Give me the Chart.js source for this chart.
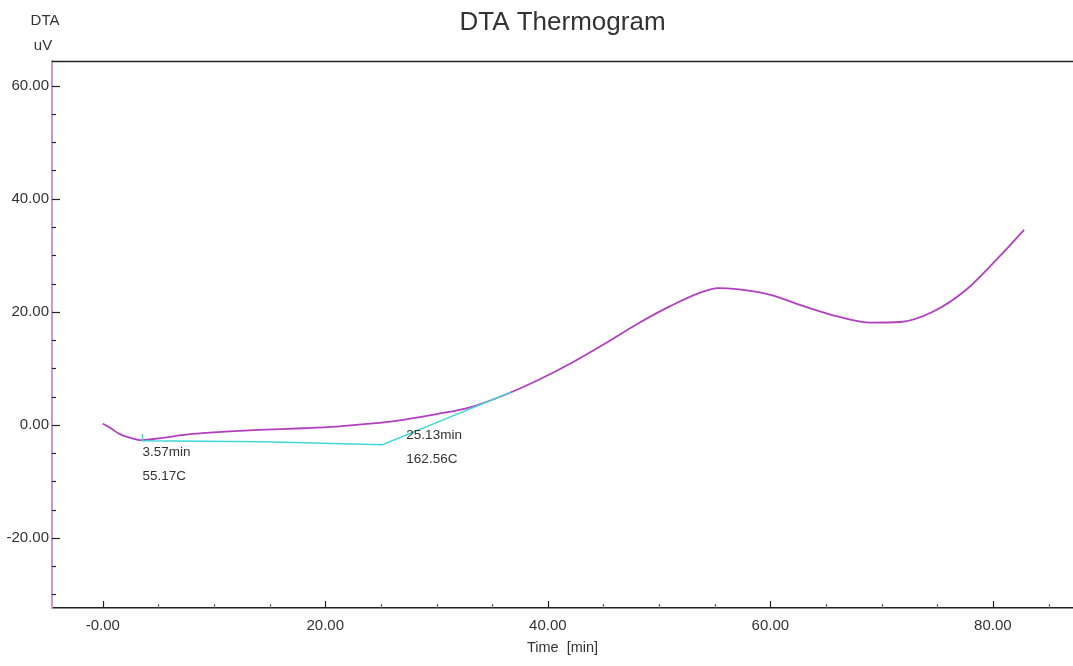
<!DOCTYPE html>
<html>
<head>
<meta charset="utf-8">
<script src="https://cdn.jsdelivr.net/npm/chart.js@4/dist/chart.umd.min.js"></script>
<style>
  html, body { margin: 0; padding: 0; background: #ffffff; }
  #wrap { width: 1073px; height: 666px; }
</style>
</head>
<body>
<div id="wrap"><canvas id="c" width="1073" height="666"></canvas></div>
<script>
// ---- data ----
const timeMin   = [0, 0.65, 1.5, 2.5, 3.5, 5, 8, 11, 14, 18, 21, 24, 27, 30, 33, 36, 39, 42, 45, 48, 51, 54, 55.3, 57, 60, 63, 66, 69, 71.7, 74.6, 77.6, 80.6, 82.8];
const dtaValues = [0.2, -0.5, -1.6, -2.3, -2.7, -2.4, -1.6, -1.2, -0.9, -0.6, -0.3, 0.2, 0.9, 1.9, 3.1, 5.2, 7.8, 10.8, 14.2, 17.8, 21.0, 23.6, 24.2, 24.0, 23.0, 21.0, 19.2, 18.1, 18.2, 20.0, 23.9, 29.8, 34.5];

const baselineTime   = [3.57, 3.57, 14.4, 25.13, 36.7];
const baselineValues = [-1.6, -2.8, -3.0, -3.5, 5.8];

const annotTimes  = [3.57, 25.13];
const annotValues = [-2.8, -3.5];
const annotLine1  = ['3.57min', '25.13min'];
const annotLine2  = ['55.17C', '162.56C'];

const xTickValues = [0, 20, 40, 60, 80];
const xTickLabels = ['-0.00', '20.00', '40.00', '60.00', '80.00'];
const yTickValues = [-20, 0, 20, 40, 60];
const yTickLabels = ['-20.00', '0.00', '20.00', '40.00', '60.00'];

const FONT = "'Liberation Sans', Arial, sans-serif";
Chart.defaults.font.family = FONT;
Chart.defaults.color = '#333333';

const mainPts = timeMin.map((t, i) => ({ x: t, y: dtaValues[i] }));
const basePts = baselineTime.map((t, i) => ({ x: t, y: baselineValues[i] }));

function stepTicks(scale, step) {
  const out = [];
  const start = Math.ceil(scale.min / step) * step;
  for (let v = start; v <= scale.max + 1e-9; v += step) out.push({ value: v });
  scale.ticks = out;
}

const decor = {
  id: 'decor',
  afterDraw(chart) {
    const { ctx, chartArea: a, scales: { x, y } } = chart;
    ctx.save();
    // top frame line
    ctx.strokeStyle = '#222';
    ctx.lineWidth = 1.5;
    ctx.beginPath();
    ctx.moveTo(a.left, a.top + 0.5);
    ctx.lineTo(a.right, a.top + 0.5);
    ctx.stroke();
    // inward tick marks
    ctx.lineWidth = 1.2;
    x.ticks.forEach(t => {
      const px = Math.round(x.getPixelForValue(t.value)) + 0.5;
      const major = xTickValues.includes(t.value);
      ctx.strokeStyle = major ? '#222' : '#666';
      ctx.beginPath();
      ctx.moveTo(px, a.bottom);
      ctx.lineTo(px, a.bottom - (major ? 7 : 4));
      ctx.stroke();
    });
    y.ticks.forEach(t => {
      const py = Math.round(y.getPixelForValue(t.value)) + 0.5;
      const major = yTickValues.includes(t.value);
      ctx.strokeStyle = '#222';
      ctx.beginPath();
      ctx.moveTo(a.left, py);
      ctx.lineTo(a.left + (major ? 8 : 4), py);
      ctx.stroke();
    });
    // y axis header
    ctx.fillStyle = '#333';
    ctx.font = '15px ' + FONT;
    ctx.textAlign = 'center';
    ctx.textBaseline = 'middle';
    ctx.fillText('DTA', 45, 21);
    ctx.fillText('uV', 43, 46);
    // peak annotations
    ctx.font = '13.5px ' + FONT;
    ctx.textAlign = 'left';
    annotTimes.forEach((t, i) => {
      const px = x.getPixelForValue(t) + (i === 0 ? 0 : 24);
      const py = y.getPixelForValue(annotValues[i]);
      const y1 = i === 0 ? py + 12 : py - 9;
      ctx.fillText(annotLine1[i], px, y1);
      ctx.fillText(annotLine2[i], px, y1 + 24);
    });
    ctx.restore();
  }
};

new Chart(document.getElementById('c'), {
  type: 'line',
  data: {
    datasets: [
      {
        label: 'Baseline',
        data: basePts,
        borderColor: '#3fd8d8',
        borderWidth: 1.5,
        pointRadius: 0,
        tension: 0,
        order: 0
      },
      {
        label: 'DTA',
        data: mainPts,
        borderColor: '#b13fc0',
        borderWidth: 1.8,
        pointRadius: 0,
        tension: 0.4,
        cubicInterpolationMode: 'monotone',
        order: 1
      }
    ]
  },
  options: {
    responsive: false,
    animation: false,
    layout: { padding: 0 },
    plugins: {
      legend: { display: false },
      tooltip: { enabled: false },
      title: {
        display: true,
        text: 'DTA Thermogram',
        fullSize: false,
        color: '#333',
        font: { size: 26, weight: 'normal', family: FONT },
        padding: { top: 7, bottom: 22.8 }
      }
    },
    scales: {
      x: {
        type: 'linear',
        min: -4.56,
        max: 87.2,
        afterBuildTicks: s => stepTicks(s, 5),
        afterFit: s => { s.height = 58; },
        grid: { display: false },
        border: { display: true, color: '#222', width: 1.5 },
        ticks: {
          autoSkip: false,
          maxRotation: 0,
          padding: 1,
          color: '#333',
          font: { size: 15 },
          callback: v => { const i = xTickValues.indexOf(v); return i >= 0 ? xTickLabels[i] : ''; }
        },
        title: {
          display: true,
          text: 'Time  [min]',
          color: '#333',
          font: { size: 14.5 },
          padding: { top: 0, bottom: 9 }
        }
      },
      y: {
        type: 'linear',
        min: -32.4,
        max: 64.37,
        afterBuildTicks: s => stepTicks(s, 5),
        afterFit: s => { s.width = 52; },
        grid: { display: false },
        border: { display: true, color: '#c79ad6', width: 2 },
        ticks: {
          autoSkip: false,
          padding: -5,
          color: '#333',
          font: { size: 15 },
          callback: v => { const i = yTickValues.indexOf(v); return i >= 0 ? yTickLabels[i] : ''; }
        }
      }
    }
  },
  plugins: [decor]
});
</script>
</body>
</html>
